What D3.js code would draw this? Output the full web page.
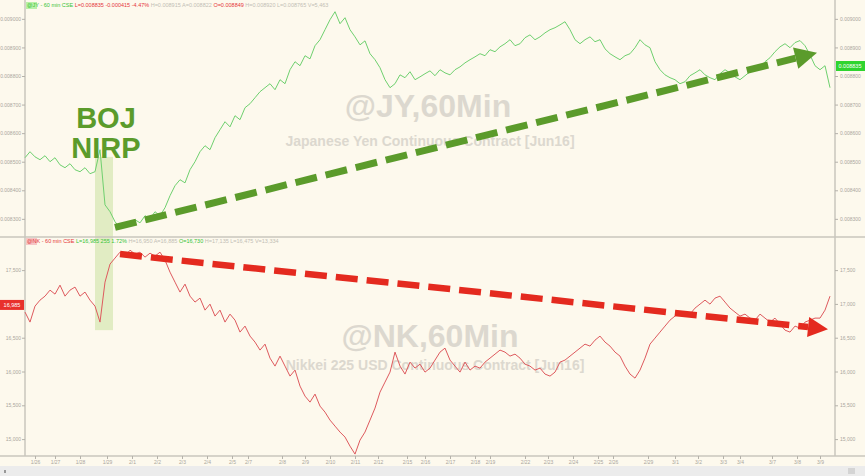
<!DOCTYPE html>
<html>
<head>
<meta charset="utf-8">
<script src="https://cdn.jsdelivr.net/npm/d3@7"></script>
<style>
  body { margin: 0; background: #fdf9ed; }
  svg { display: block; font-family: "Liberation Sans", Arial, sans-serif; }
</style>
</head>
<body>
<svg width="865" height="476"></svg>
<script>
// hourly closes, Japanese Yen futures (@JY)
const jyClose = [
  0.008514, 0.008535, 0.008517, 0.008507, 0.008521, 0.008500, 0.008514, 0.008489, 0.008479, 0.008493,
  0.008472, 0.008465, 0.008479, 0.008458, 0.008465, 0.008542, 0.008349, 0.008325, 0.008290, 0.008269,
  0.008283, 0.008276, 0.008297, 0.008286, 0.008311, 0.008300, 0.008325, 0.008311, 0.008339, 0.008381,
  0.008416, 0.008437, 0.008426, 0.008472, 0.008500, 0.008535, 0.008556, 0.008542, 0.008584, 0.008612,
  0.008640, 0.008622, 0.008661, 0.008647, 0.008689, 0.008703, 0.008724, 0.008745, 0.008759, 0.008773,
  0.008752, 0.008787, 0.008773, 0.008822, 0.008850, 0.008836, 0.008871, 0.008860, 0.008906, 0.008927,
  0.008962, 0.008997, 0.009025, 0.008983, 0.009004, 0.008962, 0.008937, 0.008909, 0.008923, 0.008878,
  0.008857, 0.008829, 0.008787, 0.008759, 0.008773, 0.008804, 0.008794, 0.008815, 0.008787, 0.008797,
  0.008808, 0.008818, 0.008801, 0.008822, 0.008811, 0.008804, 0.008822, 0.008832, 0.008846, 0.008857,
  0.008867, 0.008878, 0.008871, 0.008892, 0.008885, 0.008902, 0.008913, 0.008927, 0.008906, 0.008913,
  0.008934, 0.008944, 0.008927, 0.008937, 0.008951, 0.008962, 0.008969, 0.008979, 0.008990, 0.008962,
  0.008927, 0.008913, 0.008927, 0.008937, 0.008920, 0.008927, 0.008895, 0.008878, 0.008867, 0.008857,
  0.008871, 0.008878, 0.008899, 0.008927, 0.008909, 0.008899, 0.008850, 0.008822, 0.008804, 0.008794,
  0.008787, 0.008773, 0.008780, 0.008801, 0.008811, 0.008822, 0.008804, 0.008794, 0.008787, 0.008808,
  0.008822, 0.008811, 0.008797, 0.008787, 0.008801, 0.008815, 0.008822, 0.008829, 0.008850, 0.008864,
  0.008885, 0.008902, 0.008913, 0.008899, 0.008917, 0.008924, 0.008906, 0.008874, 0.008836, 0.008822,
  0.008836, 0.008759
];

// hourly closes, Nikkei 225 USD futures (@NK)
const nkClose = [
  16879, 16731, 16967, 17056, 17115, 17204, 17145, 17278, 17115, 17204,
  17249, 17115, 17175, 17056, 16967, 16731, 17322, 17589, 17678, 17766,
  17707, 17796, 17737, 17766, 17692, 17751, 17707, 17766, 17648, 17470,
  17322, 17175, 17293, 17115, 17027, 17086, 16908, 16997, 16820, 16908,
  16731, 16849, 16760, 16583, 16672, 16524, 16435, 16317, 16405, 16198,
  16080, 16228, 16080, 15932, 16021, 15784, 15636, 15547, 15666, 15488,
  15399, 15281, 15192, 15104, 15030, 14896, 14778, 14985, 15104, 15281,
  15459, 15695, 15843, 15991, 16287, 16080, 15962, 16139, 16050, 16109,
  15991, 16050, 16169, 16287, 16346, 16169, 16080, 15991, 16139, 16021,
  16080, 16050, 16139, 16198, 16257, 16317, 16287, 16228, 16257, 16198,
  16109, 16080, 16021, 16050, 15962, 15932, 15991, 16139, 16169, 16228,
  16287, 16346, 16405, 16376, 16464, 16524, 16435, 16376, 16287, 16228,
  16080, 15962, 15902, 16021, 16198, 16405, 16494, 16583, 16672, 16760,
  16820, 16879, 16820, 16849, 16938, 16997, 17056, 16997, 17086, 17115,
  17027, 16938, 16879, 16820, 16849, 16790, 16760, 16849, 16790, 16731,
  16790, 16701, 16612, 16583, 16672, 16642, 16731, 16760, 16790, 16790,
  16908, 17115
];

// axis ticks
const jyTicks = [0.0083, 0.0084, 0.0085, 0.0086, 0.0087, 0.0088, 0.0089, 0.0090];
const nkTicks = [15000, 15500, 16000, 16500, 17000, 17500];
const dateTickBars = [2, 6, 11, 16.4, 21.4, 26.4, 31.4, 36.4, 41.4, 44.6, 51.4, 56, 61, 66, 70.6, 76.4,
  80, 85, 90, 93, 100, 104.6, 109.6, 114.6, 117.6, 124.6, 130, 134.6, 139.6, 143, 149.4, 154.4, 159];
const dateTickLabels = ["1/26", "1/27", "1/28", "1/29", "2/1", "2/2", "2/3", "2/4", "2/5", "2/7", "2/8",
  "2/9", "2/10", "2/11", "2/12", "2/15", "2/16", "2/17", "2/18", "2/19", "2/22", "2/23", "2/24", "2/25",
  "2/26", "2/29", "3/1", "3/2", "3/3", "3/4", "3/7", "3/8", "3/9"];

// last prices shown in the axis tags
const jyLast = 0.008835;
const nkLast = 16985;

// annotations: BOJ NIRP window and the two trend arrows (bar index, price)
const nirpBars = [14, 17.6];
const jyArrow = [[18, 0.008270], [158.4, 0.008881]];
const nkArrow = [[19, 17737], [160.6, 16627]];

const svg = d3.select("svg");
const W = 865, H = 476;
const left = 25, right = 835;

svg.append("rect").attr("width", W).attr("height", H).attr("fill", "#fdf9ed");

const x = d3.scaleLinear().domain([0, jyClose.length - 1]).range([25, 830]);
const yJY = d3.scaleLinear().domain([0.00824, 0.009066]).range([236, 0]);
const yNK = d3.scaleLinear().domain([14750, 17990]).range([456, 237]);

// NIRP shaded band (spans both panels)
svg.append("rect")
  .attr("x", x(nirpBars[0]))
  .attr("width", x(nirpBars[1]) - x(nirpBars[0]))
  .attr("y", yJY(0.008517))
  .attr("height", yNK(16612) - yJY(0.008517))
  .attr("fill", "#cfe3a6")
  .attr("opacity", 0.6);

// watermarks
const wm = [
  { t: "@JY,60Min", x: 428, y: 117, s: 32 },
  { t: "Japanese Yen Continuous Contract [Jun16]", x: 430, y: 146, s: 14 },
  { t: "@NK,60Min", x: 430, y: 347, s: 32 },
  { t: "Nikkei 225 USD Continuous Contract [Jun16]", x: 435, y: 370, s: 14 }
];
svg.selectAll(".wm").data(wm).enter().append("text")
  .attr("class", "wm")
  .attr("x", d => d.x).attr("y", d => d.y)
  .attr("text-anchor", "middle")
  .style("font-size", d => d.s + "px")
  .style("font-weight", "bold")
  .attr("fill", "#dcd8cf")
  .text(d => d.t);

// frame
const frame = svg.append("g").attr("stroke", "#c9c6bd").attr("stroke-width", 1.5);
frame.append("line").attr("x1", left).attr("x2", left).attr("y1", 0).attr("y2", 456);
frame.append("line").attr("x1", right).attr("x2", right).attr("y1", 0).attr("y2", 456);
frame.append("line").attr("x1", 0).attr("x2", W).attr("y1", 237).attr("y2", 237);
frame.append("line").attr("x1", 0).attr("x2", W).attr("y1", 456).attr("y2", 456);

// price axes on both sides; a label hidden under a price tag is skipped
function priceAxes(scale, ticks, fmt, leftTag) {
  const leftTicks = leftTag == null ? ticks : ticks.filter(t => Math.abs(scale(t) - scale(leftTag)) > 7);
  svg.append("g").attr("transform", `translate(${left},0)`)
    .call(d3.axisLeft(scale).tickValues(leftTicks).tickSize(3).tickFormat(fmt))
    .call(g => g.select(".domain").remove())
    .call(g => g.selectAll("line").attr("stroke", "#b5b2aa"))
    .call(g => g.selectAll("text").attr("fill", "#aaa69d").style("font-size", "5px").attr("x", -4));
  svg.append("g").attr("transform", `translate(${right},0)`)
    .call(d3.axisRight(scale).tickValues(ticks).tickSize(3).tickFormat(fmt))
    .call(g => g.select(".domain").remove())
    .call(g => g.selectAll("line").attr("stroke", "#b5b2aa"))
    .call(g => g.selectAll("text").attr("fill", "#aaa69d").style("font-size", "5px").attr("x", 5));
}
priceAxes(yJY, jyTicks, d3.format(".6f"), null);
priceAxes(yNK, nkTicks, d3.format(",d"), nkLast);

// date axis
svg.append("g").attr("transform", "translate(0,456)")
  .call(d3.axisBottom(x).tickValues(dateTickBars).tickSize(3).tickFormat((d, i) => dateTickLabels[i]))
  .call(g => g.select(".domain").remove())
  .call(g => g.selectAll("line").attr("stroke", "#b5b2aa"))
  .call(g => g.selectAll("text").attr("fill", "#aaa69d").style("font-size", "5px").attr("y", 4));

// bottom strip
svg.append("rect").attr("x", 0).attr("y", 466).attr("width", W).attr("height", 10).attr("fill", "#ececec");
svg.append("rect").attr("x", 848).attr("y", 468).attr("width", 7).attr("height", 6).attr("fill", "#d4d4d4");
svg.append("rect").attr("x", 4).attr("y", 470).attr("width", 2).attr("height", 3).attr("fill", "#999");

// series lines
svg.append("path").datum(jyClose)
  .attr("fill", "none").attr("stroke", "#6fd06f").attr("stroke-width", 1)
  .attr("d", d3.line().x((d, i) => x(i)).y(d => yJY(d)));
svg.append("path").datum(nkClose)
  .attr("fill", "none").attr("stroke", "#de5a5e").attr("stroke-width", 1)
  .attr("d", d3.line().x((d, i) => x(i)).y(d => yNK(d)));

// dashed trend arrows
function arrow(pts, yScale, color, w, head) {
  const x0 = x(pts[0][0]), y0 = yScale(pts[0][1]);
  const x1 = x(pts[1][0]), y1 = yScale(pts[1][1]);
  const a = Math.atan2(y1 - y0, x1 - x0);
  const bx = x1 - head * Math.cos(a), by = y1 - head * Math.sin(a);
  svg.append("line")
    .attr("x1", x0).attr("y1", y0).attr("x2", bx).attr("y2", by)
    .attr("stroke", color).attr("stroke-width", w)
    .attr("stroke-dasharray", "22,9");
  const hw = head * 0.5;
  const px = -Math.sin(a), py = Math.cos(a);
  svg.append("polygon")
    .attr("points", [
      [x1, y1],
      [bx + px * hw, by + py * hw],
      [bx - px * hw, by - py * hw]
    ].map(p => p.join(",")).join(" "))
    .attr("fill", color);
}
arrow(jyArrow, yJY, "#5b9b2b", 7, 22);
arrow(nkArrow, yNK, "#e42a1f", 6.5, 20);

// BOJ NIRP label
const cx = x((nirpBars[0] + nirpBars[1]) / 2) + 2;
svg.append("text").attr("x", cx).attr("y", 128).attr("text-anchor", "middle")
  .style("font-size", "29px").style("font-weight", "bold").attr("fill", "#5b9b2b").text("BOJ");
svg.append("text").attr("x", cx).attr("y", 158).attr("text-anchor", "middle")
  .style("font-size", "29px").style("font-weight", "bold").attr("fill", "#5b9b2b").text("NIRP");

// last price tags
svg.append("rect").attr("x", 836).attr("y", yJY(jyLast) - 5).attr("width", 29).attr("height", 10).attr("fill", "#2fd42f");
svg.append("text").attr("x", 850).attr("y", yJY(jyLast) + 2).attr("text-anchor", "middle")
  .style("font-size", "5.5px").attr("fill", "#fff").text(d3.format(".6f")(jyLast));
svg.append("rect").attr("x", 0).attr("y", yNK(nkLast) - 5).attr("width", 24).attr("height", 10).attr("fill", "#e8312c");
svg.append("text").attr("x", 12).attr("y", yNK(nkLast) + 2).attr("text-anchor", "middle")
  .style("font-size", "5.5px").attr("fill", "#fff").text(d3.format(",d")(nkLast));

// header strips
function header(y, parts, bg) {
  svg.append("rect").attr("x", 26).attr("y", y - 5).attr("width", 11).attr("height", 7).attr("fill", bg);
  const t = svg.append("text").attr("x", 27).attr("y", y).style("font-size", "5.5px");
  parts.forEach(p => t.append("tspan").attr("fill", p.c).text(p.t + "  "));
}
header(7, [
  { t: "@JY - 60 min CSE", c: "#36c336" },
  { t: "L=0.008835 -0.000415 -4.47%", c: "#e5363a" },
  { t: "H=0.008915 A=0.008822", c: "#c2beb5" },
  { t: "O=0.008849", c: "#e5363a" },
  { t: "H=0.008920 L=0.008765 V=5,463", c: "#c2beb5" }
], "#b9f0a8");
header(243, [
  { t: "@NK - 60 min CSE", c: "#e5363a" },
  { t: "L=16,985 255 1.72%", c: "#36c336" },
  { t: "H=16,950 A=16,885", c: "#c2beb5" },
  { t: "O=16,730", c: "#36c336" },
  { t: "H=17,135 L=16,475 V=13,334", c: "#c2beb5" }
], "#f6c6c6");
</script>
</body>
</html>
